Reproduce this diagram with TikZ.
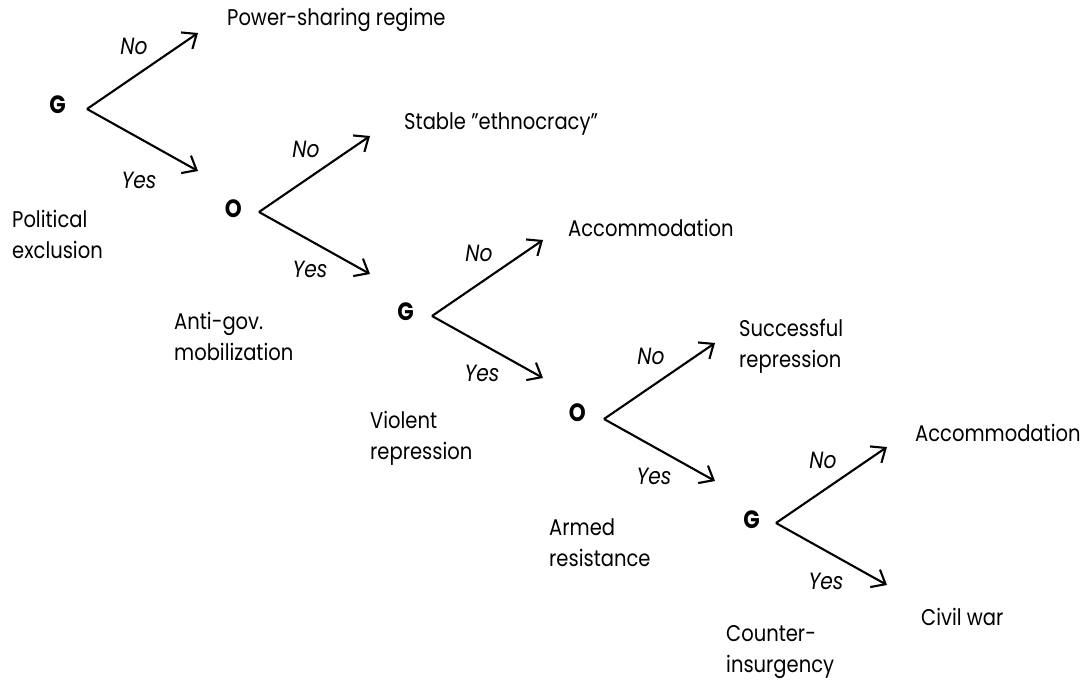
\documentclass[tikz,border=0pt]{standalone}
\usepackage{fontspec}
\setmainfont{Poppins}[FakeStretch=0.86]
\usetikzlibrary{arrows.meta}
\begin{document}
\begin{tikzpicture}[x=1pt,y=-1pt,
  txt/.style={anchor=west,inner sep=0pt,font=\fontsize{22.7}{31}\selectfont,align=left},
  lab/.style={inner sep=0pt,font=\fontsize{23.5}{24}\selectfont\itshape},
  player/.style={anchor=east,inner sep=0pt,font=\fontsize{25}{26}\selectfont\bfseries},
  arr/.style={line width=2.1pt,-{Straight Barb[length=12pt,width=20pt,line width=2.1pt]}}]
\useasboundingbox (0,0) rectangle (1085,680);
% vertices
\foreach \i/\x/\y in {1/87/109,2/259/212,3/432/316,4/604/419,5/776/523}{
  \coordinate (v\i) at (\x,\y);
  \coordinate (no\i) at (\x+111,\y-76);
  \coordinate (yes\i) at (\x+111,\y+62);
  \node[lab] (nol\i) at (\x+47,\y-63) {No};
}
\node[player] (p1) at (66,105) {G};
\node[player] (p2) at (242,209) {O};
\node[player] (p3) at (414,312) {G};
\node[player] (p4) at (586,413) {O};
\node[player] (p5) at (760,520) {G};
\node[lab] (yl1) at (139,180) {Yes};
\node[lab] (yl2) at (310,269) {Yes};
\node[lab] (yl3) at (482,373) {Yes};
\node[lab] (yl4) at (654,476) {Yes};
\node[lab] (yl5) at (826,581) {Yes};
\foreach \i in {1,...,5}{
  \draw[arr] (v\i) -- (yes\i);
  \draw[arr] (v\i) -- (no\i);
}
% outcomes
\node[txt] (o1) at (227,20) {Power-sharing regime};
\node[txt] (o2) at (404,124) {Stable ”ethnocracy”};
\node[txt] (o3) at (568,228) {Accommodation};
\node[txt] (o4) at (739,346) {Successful\\repression};
\node[txt] (o5) at (915,433) {Accommodation};
\node[txt] (o6) at (921,617) {Civil war};
% descriptions
\node[txt] (d1) at (12,234) {Political\\exclusion};
\node[txt] (d2) at (174,336) {Anti-gov.\\mobilization};
\node[txt] (d3) at (370,438) {Violent\\repression};
\node[txt] (d4) at (549,543) {Armed\\resistance};
\node[txt] (d5) at (726,652) {Counter-\\insurgency};
\end{tikzpicture}
\end{document}
